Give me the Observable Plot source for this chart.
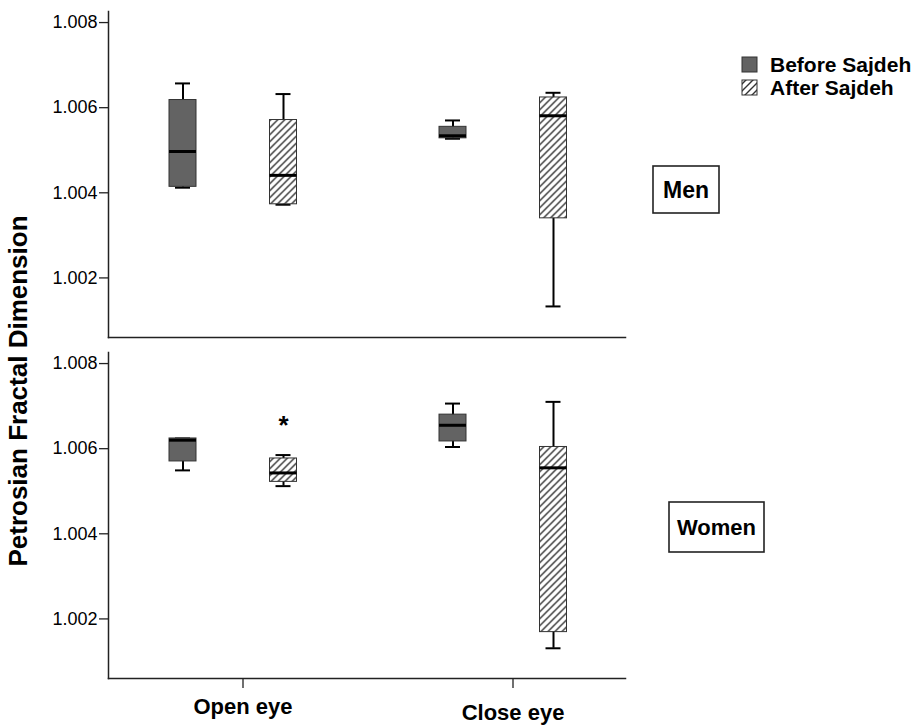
<!DOCTYPE html>
<html><head><meta charset="utf-8">
<script src="https://cdn.jsdelivr.net/npm/d3@7"></script>
<script src="https://cdn.jsdelivr.net/npm/@observablehq/plot@0.6"></script>
<style>
body{margin:0;background:#fff;overflow:hidden;font-family:Arial,"Liberation Sans",sans-serif}
#chart{position:relative;width:916px;height:726px;overflow:hidden}
</style>
</head><body><div id="chart"></div>
<script>
// ---- data ----
const panels = ["Men", "Women"];
const groups = ["Open eye", "Close eye"];
const series = ["Before Sajdeh", "After Sajdeh"];
const yTicks = [1.002, 1.004, 1.006, 1.008];

const boxPanel  = ["Men","Men","Men","Men","Women","Women","Women","Women"];
const boxGroup  = ["Open eye","Open eye","Close eye","Close eye","Open eye","Open eye","Close eye","Close eye"];
const boxSeries = ["Before Sajdeh","After Sajdeh","Before Sajdeh","After Sajdeh","Before Sajdeh","After Sajdeh","Before Sajdeh","After Sajdeh"];
const minVals = [1.00412, 1.00372, 1.00527, 1.00133, 1.00549, 1.00512, 1.00604, 1.00131];
const q1Vals  = [1.00414, 1.00373, 1.00528, 1.00340, 1.00570, 1.00522, 1.00617, 1.00169];
const medVals = [1.00497, 1.00441, 1.00534, 1.00581, 1.00620, 1.00543, 1.00655, 1.00555];
const q3Vals  = [1.00618, 1.00571, 1.00555, 1.00624, 1.00624, 1.00577, 1.00680, 1.00604];
const maxVals = [1.00657, 1.00632, 1.00570, 1.00635, 1.00624, 1.00585, 1.00706, 1.00710];

const outPanel = ["Women"];
const outGroup = ["Open eye"];
const outSeries = ["After Sajdeh"];
const outVals = [1.00663];
const outSymbol = ["*"];

// ---- tables ----
const boxes = boxPanel.map((p, i) => ({
  panel: p, group: boxGroup[i], series: boxSeries[i],
  min: minVals[i], q1: q1Vals[i], med: medVals[i], q3: q3Vals[i], max: maxVals[i]
}));
const outliers = outPanel.map((p, i) => ({panel: p, group: outGroup[i], series: outSeries[i], value: outVals[i], sym: outSymbol[i]}));

const seriesStyle = {
  "Before Sajdeh": {dx: -60, fill: "#636363"},
  "After Sajdeh": {dx: 40.5, fill: "url(#hatch)"}
};

const boxMarks = series.flatMap(s => {
  const d = boxes.filter(b => b.series === s);
  const {dx, fill} = seriesStyle[s];
  return [
    Plot.ruleX(d, {x: "group", y1: "min", y2: "max", fy: "panel", stroke: "#000", strokeWidth: 2, dx}),
    Plot.tickY(d, {x: "group", y: "min", fy: "panel", stroke: "#000", strokeWidth: 2, insetLeft: 6, insetRight: 6, dx}),
    Plot.tickY(d, {x: "group", y: "max", fy: "panel", stroke: "#000", strokeWidth: 2, insetLeft: 6, insetRight: 6, dx}),
    Plot.barY(d, {x: "group", y1: "q1", y2: "q3", fy: "panel", fill, stroke: "#333", strokeWidth: 1, dx}),
    Plot.tickY(d, {x: "group", y: "med", fy: "panel", stroke: "#000", strokeWidth: 3, dx})
  ];
});

const svg = Plot.plot({
  width: 916, height: 726,
  marginTop: 11, marginBottom: 48, marginLeft: 108, marginRight: 291,
  style: {fontFamily: "Arial, 'Liberation Sans', sans-serif", fontSize: "17px", color: "#000", background: "#fff"},
  x: {type: "band", domain: groups, range: [229, 526], paddingInner: 0.9, paddingOuter: 0, axis: null},
  y: {domain: [1.0006, 1.00826], axis: null},
  fy: {domain: panels, paddingInner: 0.044, paddingOuter: 0, axis: null},
  marks: [
    Plot.axisY({ticks: yTicks, tickFormat: d3.format(".3f"), tickSize: 9, tickPadding: 2, label: null, fontSize: 18, stroke: "#222", strokeWidth: 1.3}),
    Plot.axisX({ticks: ["Open eye"], tickSize: 10, tickPadding: 10, label: null, fontSize: 22, fontWeight: "bold", stroke: "#222", strokeWidth: 1.3}),
    Plot.axisX({ticks: ["Close eye"], tickSize: 10, tickPadding: 16, label: null, fontSize: 22, fontWeight: "bold", stroke: "#222", strokeWidth: 1.3}),
    Plot.frame({anchor: "left", stroke: "#222", strokeWidth: 1.5}),
    Plot.frame({anchor: "bottom", stroke: "#222", strokeWidth: 1.5}),
    ...boxMarks,
    Plot.text(outliers, {x: "group", y: "value", fy: "panel", text: "sym", fontSize: 26, fontWeight: "bold", fill: "#000", dx: seriesStyle["After Sajdeh"].dx, dy: 4})
  ]
});

// pattern defs
const s = d3.select(svg);
const defs = s.insert("defs", ":first-child");
const pat = defs.append("pattern").attr("id", "hatch").attr("patternUnits", "userSpaceOnUse").attr("width", 7).attr("height", 7);
pat.append("rect").attr("width", 7).attr("height", 7).attr("fill", "#fff");
pat.append("path").attr("d", "M-1,1 l2,-2 M0,7 l7,-7 M6,8 l2,-2").attr("stroke", "#333").attr("stroke-width", 1.4);

// y-axis title
s.append("text").attr("transform", "translate(27,391) rotate(-90)")
  .attr("text-anchor", "middle").attr("font-size", 26).attr("font-weight", "bold").attr("fill", "#000")
  .text("Petrosian Fractal Dimension");

// legend
const leg = s.append("g").attr("font-size", 21).attr("font-weight", "bold").attr("fill", "#000").attr("text-anchor", "start");
series.forEach((name, i) => {
  leg.append("rect").attr("x", 742).attr("y", 57 + i * 23).attr("width", 15).attr("height", 15)
    .attr("fill", seriesStyle[name].fill).attr("stroke", "#333").attr("stroke-width", 1);
  leg.append("text").attr("x", 770).attr("y", 72 + i * 23).attr("text-anchor", "start").text(name);
});

// panel labels
const panelBox = {Men: [653, 166, 66, 47, 23], Women: [669, 502, 95, 50, 22]};
panels.forEach(p => {
  const [x, y, w, h, fs] = panelBox[p];
  s.append("rect").attr("x", x).attr("y", y).attr("width", w).attr("height", h)
    .attr("fill", "#fff").attr("stroke", "#222").attr("stroke-width", 1.6);
  s.append("text").attr("x", x + w / 2).attr("y", y + h / 2 + fs * 0.36).attr("text-anchor", "middle")
    .attr("font-size", fs).attr("font-weight", "bold").attr("fill", "#000").text(p);
});

document.getElementById("chart").appendChild(svg);
</script>
</body></html>
